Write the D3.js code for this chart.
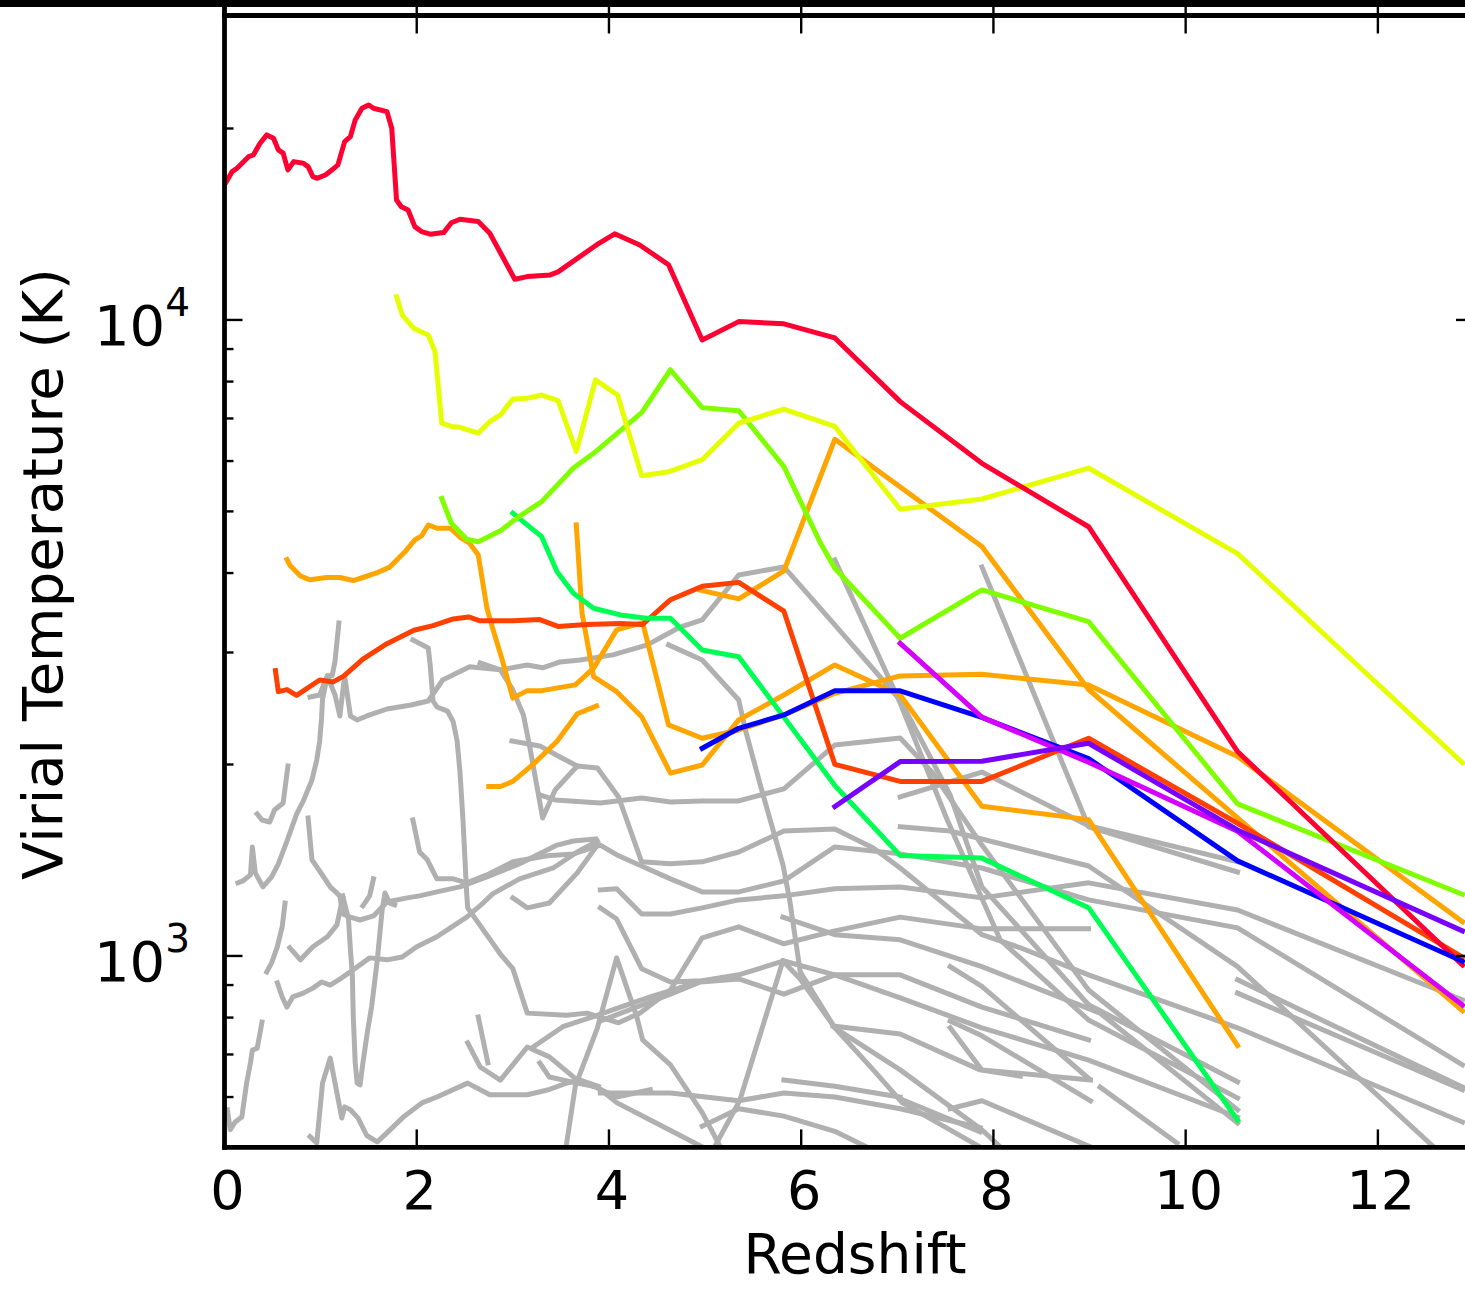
<!DOCTYPE html>
<meta charset="utf-8">
<style>
body { margin: 0; background: #fff; }
svg { font-family: "DejaVu Sans", sans-serif; }
.spine { stroke: #000; stroke-width: 4.8; }
.tick line { stroke: #000; stroke-width: 2.4; }
</style>
<body>
<script src="https://d3js.org/d3.v7.min.js"></script>
<script>

// redshift, virial temperature (K) pairs
var crimson = [[0.02,16500],[0.08,17110],[0.13,17320],[0.25,18060],[0.30,18170],[0.37,18960],[0.44,19540],[0.51,19310],[0.56,18510],[0.61,18290],[0.65,17420],[0.66,17220],[0.72,17740],[0.82,17640],[0.87,17420],[0.92,16800],[0.96,16700],[1.05,16900],[1.12,17220],[1.18,17530],[1.25,19070],[1.31,19420],[1.36,20630],[1.43,21520],[1.50,21780],[1.55,21520],[1.69,21260],[1.74,20020],[1.79,15440],[1.84,15070],[1.91,14890],[1.98,14020],[2.05,13770],[2.14,13640],[2.28,13720],[2.36,14220],[2.45,14400],[2.64,14280],[2.76,13690],[3.02,11590],[3.15,11700],[3.39,11770],[3.47,11900],[3.87,13120],[4.06,13660],[4.32,13120],[4.62,12210],[4.97,9300],[5.35,9940],[5.82,9860],[6.35,9370],[7.03,7440],[7.88,5950],[8.99,4730],[10.54,2096],[12.88,968]];
var yellow = [[1.79,10880],[1.85,10180],[1.97,9700],[2.12,9470],[2.19,8920],[2.26,6880],[2.36,6800],[2.45,6780],[2.64,6640],[2.76,6920],[2.87,7090],[3.00,7510],[3.15,7530],[3.30,7620],[3.47,7470],[3.66,6210],[3.86,8050],[4.09,7620],[4.34,5690],[4.62,5770],[4.97,6030],[5.35,6880],[5.82,7240],[6.35,6800],[7.03,5040],[7.88,5230],[8.99,5850],[10.54,4290],[12.88,2013]];
var lime = [[2.26,5240],[2.36,4790],[2.52,4520],[2.64,4480],[2.87,4660],[3.04,4880],[3.30,5180],[3.63,5850],[3.84,6170],[4.34,7150],[4.64,8350],[4.97,7280],[5.35,7200],[5.82,5880],[6.20,4460],[6.35,4070],[7.03,3159],[7.88,3763],[8.99,3354],[10.54,1734],[12.88,1250]];
var spring = [[3.00,4968],[3.30,4563],[3.46,4020],[3.63,3718],[3.84,3521],[4.12,3437],[4.39,3396],[4.64,3396],[4.97,3028],[5.35,2955],[6.35,1854],[7.03,1439],[7.88,1425],[8.99,1191],[10.54,552]];
var redOrange = [[0.53,2810],[0.56,2604],[0.65,2623],[0.75,2569],[0.99,2716],[1.13,2697],[1.24,2754],[1.44,2930],[1.69,3097],[1.97,3251],[2.17,3306],[2.38,3388],[2.54,3412],[2.66,3365],[3.00,3365],[3.28,3380],[3.47,3297],[3.77,3320],[4.12,3333],[4.35,3320],[4.64,3632],[4.97,3812],[5.35,3867],[5.82,3484],[6.35,2001],[7.03,1881],[7.88,1881],[8.99,2199],[10.54,1617],[12.88,996]];
var blue = [[4.97,2121],[5.35,2280],[5.82,2393],[6.35,2612],[7.03,2612],[7.88,2371],[8.99,2044],[10.54,1411],[12.88,981]];
var violet = [[6.35,1717],[7.03,2021],[7.88,2024],[8.99,2160],[10.54,1578],[12.88,1095]];
var magenta = [[7.03,3102],[7.88,2374],[8.99,2016],[10.54,1570],[12.88,837]];
var orangeA = [[0.65,4201],[0.68,4115],[0.79,3958],[0.89,3903],[1.06,3936],[1.20,3936],[1.34,3893],[1.44,3936],[1.58,4001],[1.72,4087],[1.88,4323],[1.98,4509],[2.05,4575],[2.12,4761],[2.21,4704],[2.35,4704],[2.45,4553],[2.55,4456],[2.64,4271],[2.73,3525],[2.80,3236],[2.88,2955],[3.00,2543],[3.15,2613],[3.30,2613],[3.65,2668],[3.84,2835],[4.08,3256],[4.35,3343],[4.62,2308],[4.97,2199],[5.35,2266],[5.82,2393],[6.35,2588],[7.03,2756],[7.88,2772],[8.99,2668],[10.54,2058],[12.88,1132]];
var orangeB = [[3.66,4761],[3.72,3458],[3.84,2749],[4.08,2603],[4.34,2378],[4.64,1938],[4.97,1996],[5.35,2350],[5.82,2572],[6.35,2868],[7.03,2572],[7.88,1719],[8.99,1638],[10.54,723]];
var orangeC = [[2.75,1847],[2.87,1847],[3.00,1881],[3.21,2001],[3.46,2175],[3.67,2403],[3.87,2471]];
var orangeD = [[4.95,3760],[5.35,3642],[5.82,4030],[6.35,6493],[7.88,4402],[8.99,2624],[10.54,1648],[12.88,820]];

// the other haloes, all drawn grey
var greyTracks = [
  [[0.03,573],[0.06,533],[0.11,548],[0.18,558],[0.23,631],[0.27,679],[0.29,711],[0.34,716],[0.37,757],[0.39,787]],
  [[0.14,1303],[0.19,1312],[0.27,1341],[0.29,1484],[0.32,1351],[0.40,1284],[0.49,1331],[0.56,1396],[0.65,1516],[0.75,1671],[0.82,1753],[0.91,1891],[0.96,2033],[0.99,2177],[1.01,2367],[1.02,2535],[1.07,2757],[1.12,2757],[1.15,2910],[1.17,3117],[1.19,3339]],
  [[0.34,1672],[0.39,1636],[0.47,1624],[0.52,1696],[0.61,1740],[0.66,1989]],
  [[0.89,2553],[0.99,2572],[1.07,2757],[1.15,2572],[1.20,2384],[1.25,2757],[1.31,2384],[1.38,2350],[1.48,2384],[1.69,2445],[1.94,2481],[2.12,2517],[2.27,2716],[2.55,2848],[2.87,2817],[3.15,2868],[3.31,2838],[3.49,2899],[3.70,2920],[4.04,2974],[4.40,3084],[4.74,3290],[4.97,3376],[5.35,3972],[5.82,4089],[6.35,3315],[7.03,2526],[7.55,1791],[7.88,1284],[8.99,838],[10.54,634]],
  [[1.96,3140],[2.12,3050],[2.14,2868],[2.17,2517],[2.21,2463],[2.32,2427],[2.38,2333],[2.42,2177],[2.45,1946],[2.48,1648],[2.52,1252],[2.53,1190],[2.87,1007],[3.00,955],[3.15,813],[3.56,807],[3.77,813],[4.10,785],[4.32,813],[4.64,884],[4.97,1068],[5.35,1111],[5.82,1045],[6.35,1095],[7.03,1151],[7.88,1103],[8.99,1103]],
  [[0.89,520],[0.96,508],[1.02,631],[1.10,691],[1.15,631],[1.22,556],[1.25,579],[1.31,573],[1.39,556],[1.48,522],[1.59,510],[1.69,527],[1.86,558],[2.06,588],[2.21,600],[2.53,631],[2.76,605],[3.15,605],[3.37,616],[3.56,631],[3.70,638],[3.89,624]],
  [[0.44,944],[0.49,975],[0.55,1034],[0.60,1111],[0.63,1211]],
  [[0.55,907],[0.60,862],[0.65,831],[0.71,862],[0.82,874],[0.92,890],[1.01,910],[1.10,900],[1.22,924],[1.34,951],[1.51,993],[1.69,986],[1.85,996],[2.00,1034],[2.21,1072],[2.35,1107],[2.52,1151],[2.69,1211],[2.79,1252],[3.07,1322],[3.42,1375],[3.67,1457],[3.88,1516]],
  [[0.68,1030],[0.79,986],[0.92,1034],[1.07,1072],[1.17,1119],[1.23,1234]],
  [[0.87,1648],[0.91,1416],[0.99,1360],[1.10,1284],[1.20,1243],[1.23,1164],[1.31,1151],[1.41,1139],[1.55,1156],[1.69,1216],[1.90,1234],[2.03,1243],[2.21,1261],[2.45,1284],[2.73,1331],[3.07,1396],[3.46,1494],[3.63,1516],[3.86,1527]],
  [[1.44,1199],[1.51,1243],[1.55,1322]],
  [[1.23,1243],[1.29,1143],[1.31,1022],[1.33,934],[1.34,802],[1.36,679],[1.38,631],[1.41,627],[1.44,679],[1.49,765],[1.53,831],[1.59,986],[1.64,1181],[1.67,1256],[1.72,1211],[1.77,1203]],
  [[1.96,1636],[2.03,1457],[2.11,1416],[2.21,1322],[2.38,1322],[2.52,1303],[2.73,1341],[3.00,1406],[3.36,1437],[3.63,1447],[3.91,1494],[4.10,1437],[4.34,1385],[4.64,1322],[4.97,1261],[5.35,1261],[5.82,1312],[6.35,1484],[7.03,1447],[7.88,1375],[8.99,1225],[10.54,1107],[12.88,674]],
  [[4.62,3084],[4.97,2920],[5.35,2526],[5.42,2266],[5.58,1844],[5.81,1391],[5.88,1225],[5.99,944],[6.35,771],[7.03,662],[7.88,533],[8.07,501]],
  [[2.66,2889],[2.87,2817],[3.00,2620],[3.11,2393],[3.18,2116],[3.31,1648],[3.44,1824],[3.67,1989],[3.88,1975],[4.10,1778],[4.34,1406],[4.64,1396],[4.97,1406],[5.35,1457],[5.82,1572],[6.35,1584],[6.75,1478],[7.03,1375],[7.88,1080],[8.28,1030],[8.99,934],[10.54,771],[12.88,548]],
  [[2.99,2177],[3.28,2139],[3.49,2055],[3.67,1989]],
  [[3.28,1791],[3.44,1759],[3.91,1740],[4.34,1772],[4.64,1746],[4.97,1753],[5.35,1753],[5.82,1831],[6.35,2146],[7.03,2201],[7.37,1939],[7.88,1494],[8.99,884],[10.54,573]],
  [[7.88,4089],[8.99,1596],[10.54,1355]],
  [[6.35,4195],[7.03,2499],[7.52,1636],[8.07,1060],[8.99,793],[10.54,598]],
  [[3.91,1270],[4.08,1275],[4.34,1164],[4.64,1164],[4.97,1190],[5.35,1225],[5.82,1243],[6.35,1275],[7.03,1284],[7.88,1234],[8.99,1303],[10.54,1181],[12.88,853]],
  [[7.03,1596],[7.55,1572],[8.99,1385],[10.54,962],[12.58,501]],
  [[7.03,1778],[7.88,1946],[8.99,1602],[10.54,1406]],
  [[10.54,917],[12.88,622]],
  [[10.54,874],[12.88,616]],
  [[5.81,1151],[6.35,1080],[7.03,1060],[7.88,962],[9.11,813],[10.54,546]],
  [[3.91,1190],[4.08,1143],[4.34,955],[4.64,910],[4.97,914],[5.35,934],[5.82,982],[6.35,934],[7.03,859],[7.88,771],[8.99,686],[10.54,558]],
  [[3.91,790],[4.64,871],[4.95,910],[5.35,920],[5.82,871],[6.35,934],[7.03,934],[7.88,831],[8.99,738]],
  [[3.56,508],[3.65,624],[3.88,771],[4.08,993],[4.29,802],[4.35,738],[4.64,674],[4.97,567],[5.16,501]],
  [[5.81,982],[5.99,920],[6.35,771],[6.75,662],[7.05,588],[7.86,501]],
  [[6.33,776],[7.03,754],[7.86,662],[8.28,647]],
  [[7.03,596],[7.86,529]],
  [[3.91,609],[4.64,609],[5.35,592],[5.82,609],[6.35,600],[7.03,575],[7.86,537]],
  [[2.53,730],[2.66,669],[2.87,638],[3.15,719],[3.38,694],[3.67,638],[3.88,620],[4.08,600],[4.43,616]],
  [[2.64,802],[2.74,679]],
  [[3.21,719],[3.52,774],[3.83,802],[4.12,831],[4.43,862],[4.97,914]],
  [[3.28,679],[3.38,645],[3.67,631],[3.88,622],[4.08,588],[4.43,552],[4.97,501]],
  [[7.55,962],[7.88,896],[8.99,642]],
  [[7.55,790],[7.88,749],[9.01,592]],
  [[7.55,771],[7.88,662],[9.01,638]],
  [[7.55,575],[7.88,592],[9.01,501]],
  [[9.11,622],[9.91,508]],
  [[3.00,1234],[3.15,1190],[3.38,1211],[3.67,1351],[3.88,1494]],
  [[5.08,495],[5.36,592],[5.81,982]],
  [[5.82,638],[6.35,624],[7.03,600]],
  [[4.97,540],[5.35,575],[5.82,560],[6.35,530],[6.75,495]]
];

var xTicks = [0, 2, 4, 6, 8, 10, 12];
var yMajor = [1e3, 1e4];
var yMinor = [600, 700, 800, 900, 2000, 3000, 4000, 5000, 6000, 7000, 8000, 9000, 20000];

var colored = [
  {data: orangeC, color: "#ffa500"},
  {data: orangeB, color: "#ffa500"},
  {data: orangeA, color: "#ffa500"},
  {data: orangeD, color: "#ffa500"},
  {data: redOrange, color: "#ff4000"},
  {data: spring, color: "#00ff55"},
  {data: lime, color: "#80ff00"},
  {data: yellow, color: "#e6ff00"},
  {data: crimson, color: "#ff0033"},
  {data: blue, color: "#0000ff"},
  {data: magenta, color: "#d500ff"},
  {data: violet, color: "#7800ff"}
];

var width = 1465, height = 1314;
var plotLeft = 224.5, plotRight = 1474, plotTop = 16.5, plotBottom = 1147.4;
var trackWidth = 5;

var x = d3.scaleLinear().domain([0, 13]).range([plotLeft, plotRight]);
var y = d3.scaleLog().domain([500, 30000]).range([plotBottom, plotTop]);

var svg = d3.select("body").append("svg")
    .attr("width", width)
    .attr("height", height);

svg.append("rect").attr("width", width).attr("height", height).attr("fill", "#fff");

svg.append("clipPath").attr("id", "plot-clip")
  .append("rect")
    .attr("x", plotLeft).attr("y", plotTop)
    .attr("width", plotRight - plotLeft).attr("height", plotBottom - plotTop);

var line = d3.line()
    .x(function(d) { return x(d[0]); })
    .y(function(d) { return y(d[1]); });

var tracks = svg.append("g")
    .attr("clip-path", "url(#plot-clip)")
    .attr("fill", "none")
    .attr("stroke-width", trackWidth)
    .attr("stroke-linejoin", "round")
    .attr("stroke-linecap", "square");

tracks.selectAll(".grey")
  .data(greyTracks).enter()
  .append("path")
    .attr("class", "grey")
    .attr("stroke", "#b0b0b0")
    .attr("d", line);

tracks.selectAll(".halo")
  .data(colored).enter()
  .append("path")
    .attr("class", "halo")
    .attr("stroke", function(d) { return d.color; })
    .attr("d", function(d) { return line(d.data); });

// ticks, all pointing inward
var ticks = svg.append("g").attr("class", "tick");

ticks.selectAll(".xb").data(xTicks).enter().append("line")
    .attr("x1", x).attr("x2", x)
    .attr("y1", plotBottom).attr("y2", plotBottom - 18);

ticks.selectAll(".xt").data(xTicks).enter().append("line")
    .attr("x1", x).attr("x2", x)
    .attr("y1", 7).attr("y2", plotTop + 17);

ticks.selectAll(".yl").data(yMajor.concat(yMinor)).enter().append("line")
    .attr("x1", plotLeft).attr("x2", function(d) { return plotLeft + (yMajor.indexOf(d) >= 0 ? 18 : 9); })
    .attr("y1", y).attr("y2", y);

ticks.selectAll(".yr").data(yMajor.concat(yMinor)).enter().append("line")
    .attr("x1", plotRight).attr("x2", function(d) { return plotRight - (yMajor.indexOf(d) >= 0 ? 18 : 9); })
    .attr("y1", y).attr("y2", y);

// frame
svg.append("rect").attr("x", 0).attr("y", 0).attr("width", width).attr("height", 7).attr("fill", "#000");
svg.append("line").attr("class", "spine").attr("x1", plotLeft).attr("x2", plotLeft).attr("y1", 5).attr("y2", plotBottom + 2.4);
svg.append("line").attr("class", "spine").attr("x1", plotLeft - 2.4).attr("x2", width).attr("y1", plotBottom).attr("y2", plotBottom);
svg.append("line").attr("class", "spine").attr("x1", plotLeft - 2.4).attr("x2", width).attr("y1", 15.5).attr("y2", 15.5);

// labels
svg.selectAll(".xlab").data(xTicks).enter().append("text")
    .attr("x", function(d) { return x(d) + 3; })
    .attr("y", 1209)
    .attr("text-anchor", "middle")
    .attr("font-size", 54)
    .text(function(d) { return d; });

var ylab = svg.selectAll(".ylab").data(yMajor).enter().append("text")
    .attr("x", 190)
    .attr("y", function(d) { return y(d) + 25; })
    .attr("text-anchor", "end")
    .attr("font-size", 56);
ylab.append("tspan").text("10");
ylab.append("tspan")
    .attr("dy", -29)
    .attr("font-size", 39)
    .text(function(d) { return Math.round(Math.log10(d)); });

svg.append("text")
    .attr("x", 855).attr("y", 1273)
    .attr("text-anchor", "middle")
    .attr("font-size", 55)
    .text("Redshift");

svg.append("text")
    .attr("transform", "translate(62,574) rotate(-90)")
    .attr("text-anchor", "middle")
    .attr("font-size", 56)
    .text("Virial Temperature (K)");

</script>
